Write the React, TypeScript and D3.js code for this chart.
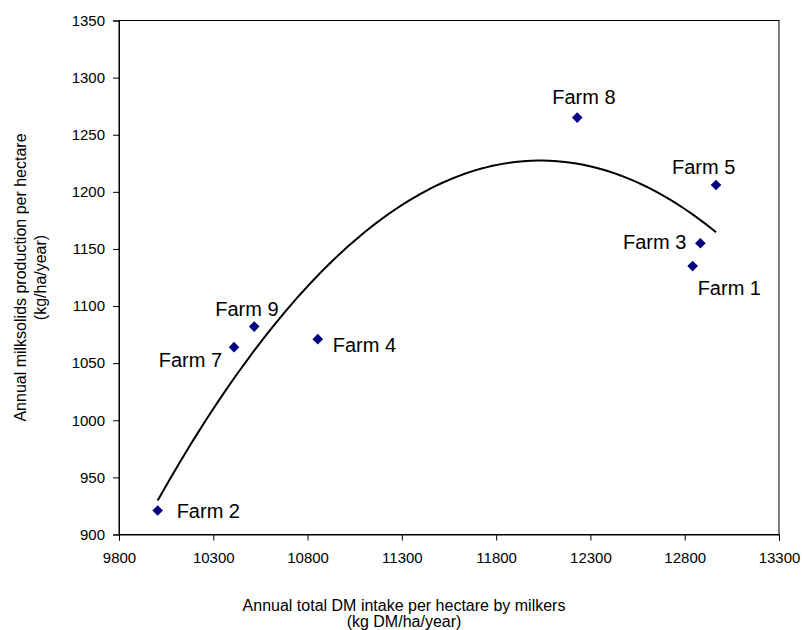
import React, { useEffect, useRef } from 'react';
import * as d3 from 'd3';

// farm data
const farms = ['Farm 1', 'Farm 2', 'Farm 3', 'Farm 4', 'Farm 5', 'Farm 7', 'Farm 8', 'Farm 9'];
const dmIntake = [12842, 10005, 12883, 10854, 12966, 10410, 12230, 10517];
const milksolids = [1135, 921, 1155, 1071, 1206, 1064, 1265, 1082];

const xTicks = [9800, 10300, 10800, 11300, 11800, 12300, 12800, 13300];
const yTicks = [900, 950, 1000, 1050, 1100, 1150, 1200, 1250, 1300, 1350];

// label placement relative to each point: [dx, dy, anchor]
const labelOffsets: [number, number, string][] = [
    [5, 29, 'start'],
    [19, 7, 'start'],
    [-14, 6, 'end'],
    [15, 13, 'start'],
    [-44, -11, 'start'],
    [-12, 20, 'end'],
    [-25, -14, 'start'],
    [-39, -11, 'start'],
];

// least squares polynomial (order 2) trendline, like Excel
function quadFit(xs: number[], ys: number[]) {
    const mx = d3.mean(xs) as number;
    const u = xs.map(x => x - mx);
    const s = (p: number) => d3.sum(u, v => Math.pow(v, p));
    const t = (p: number) => d3.sum(u, (v, i) => Math.pow(v, p) * ys[i]);
    const A = [
        [s(0), s(1), s(2), t(0)],
        [s(1), s(2), s(3), t(1)],
        [s(2), s(3), s(4), t(2)],
    ];
    for (let i = 0; i < 3; i++) {
        for (let j = i + 1; j < 3; j++) {
            const f = A[j][i] / A[i][i];
            for (let k = i; k < 4; k++) A[j][k] -= f * A[i][k];
        }
    }
    const c = [0, 0, 0];
    for (let i = 2; i >= 0; i--) {
        let v = A[i][3];
        for (let k = i + 1; k < 3; k++) v -= A[i][k] * c[k];
        c[i] = v / A[i][i];
    }
    return (x: number) => c[0] + c[1] * (x - mx) + c[2] * (x - mx) * (x - mx);
}

export default function App() {
    const ref = useRef<SVGSVGElement>(null);

    useEffect(() => {
        const svg = d3.select(ref.current);
        svg.selectAll('*').remove();

        const left = 119, right = 779, top = 20.5, bottom = 534.5;
        const font = 'Arial, "Liberation Sans", sans-serif';

        const x = d3.scaleLinear().domain([9800, 13300]).range([left, right]);
        const y = d3.scaleLinear().domain([900, 1350]).range([bottom, top]);

        // frame
        svg.append('rect')
            .attr('x', left).attr('y', top)
            .attr('width', right - left).attr('height', bottom - top)
            .attr('fill', 'none').attr('stroke', '#000').attr('stroke-width', 1);

        const yAxis = svg.append('g')
            .attr('transform', `translate(${left},0)`)
            .call(d3.axisLeft(y).tickValues(yTicks).tickSize(6).tickPadding(8).tickFormat(d3.format('d')));
        const xAxis = svg.append('g')
            .attr('transform', `translate(0,${bottom})`)
            .call(d3.axisBottom(x).tickValues(xTicks).tickSize(6).tickPadding(12).tickFormat(d3.format('d')));
        [xAxis, yAxis].forEach(g => {
            g.select('.domain').attr('stroke', '#000');
            g.selectAll('line').attr('stroke', '#000');
            g.selectAll('text').attr('font-family', font).attr('font-size', 15).attr('fill', '#000');
        });

        // trendline
        const fit = quadFit(dmIntake, milksolids);
        const x0 = d3.min(dmIntake) as number, x1 = d3.max(dmIntake) as number;
        const xs = d3.range(0, 101).map(i => x0 + (x1 - x0) * i / 100);
        const line = d3.line<number>().x(d => x(d)).y(d => y(fit(d)));
        svg.append('path')
            .datum(xs)
            .attr('d', line)
            .attr('fill', 'none')
            .attr('stroke', '#000')
            .attr('stroke-width', 2);

        // points
        svg.selectAll('path.pt')
            .data(farms)
            .enter()
            .append('path')
            .attr('class', 'pt')
            .attr('d', d3.symbol(d3.symbolDiamond2, 72)())
            .attr('transform', (d, i) => `translate(${x(dmIntake[i])},${y(milksolids[i])})`)
            .attr('fill', '#000080');

        svg.selectAll('text.lbl')
            .data(farms)
            .enter()
            .append('text')
            .attr('class', 'lbl')
            .attr('x', (d, i) => x(dmIntake[i]) + labelOffsets[i][0])
            .attr('y', (d, i) => y(milksolids[i]) + labelOffsets[i][1])
            .attr('text-anchor', (d, i) => labelOffsets[i][2])
            .attr('font-family', font)
            .attr('font-size', 20)
            .text(d => d);

        // axis titles
        const xt = svg.append('text')
            .attr('text-anchor', 'middle')
            .attr('font-family', font)
            .attr('font-size', 16);
        xt.append('tspan').attr('x', 404).attr('y', 611).text('Annual total DM intake per hectare by milkers');
        xt.append('tspan').attr('x', 404).attr('y', 627).text('(kg DM/ha/year)');

        const yt = svg.append('text')
            .attr('text-anchor', 'middle')
            .attr('font-family', font)
            .attr('font-size', 16)
            .attr('transform', `translate(0,${(top + bottom) / 2}) rotate(-90)`);
        yt.append('tspan').attr('x', 0).attr('y', 26).text('Annual milksolids production per hectare');
        yt.append('tspan').attr('x', 0).attr('y', 46).text('(kg/ha/year)');
    }, []);

    return (
        <svg ref={ref} width={803} height={630}
             style={{ position: 'absolute', left: 0, top: 0, background: '#fff' }} />
    );
}
